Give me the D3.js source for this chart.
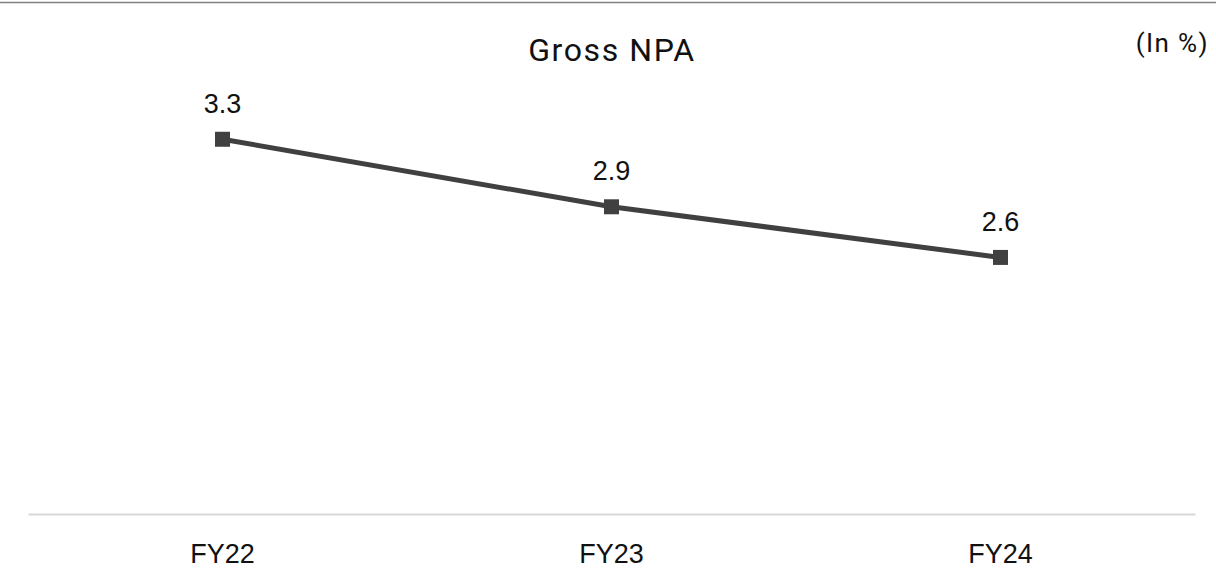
<!DOCTYPE html>
<html><head><meta charset="utf-8">
<script src="https://cdn.jsdelivr.net/npm/d3@7"></script>
<style>body{margin:0;background:#fff;} svg{display:block;}</style>
</head><body>
<svg id="c" width="1216" height="583"></svg>
<script>
const categories = ["FY22", "FY23", "FY24"];
const values = [3.3, 2.9, 2.6];
const valueLabels = ["3.3", "2.9", "2.6"];
const title = "Gross NPA";
const unitLabel = "(In %)";

const svg = d3.select("#c");
const W = 1216, H = 583;
const left = 28, right = 1195, baseY = 514;

const x = d3.scaleBand().domain(categories).range([left, right]).padding(0);
const y = d3.scaleLinear().domain([1.08, 3.5]).range([baseY, baseY - 2.42 * 168.8]);

// top rule
svg.append("line").attr("x1", 0).attr("x2", W).attr("y1", 2.5).attr("y2", 2.5)
  .attr("stroke", "#808080").attr("stroke-width", 1.5);

// title
svg.append("text").attr("x", 612).attr("y", 61).attr("text-anchor", "middle")
  .attr("font-family", "Roboto, 'Liberation Sans', sans-serif").attr("font-size", 32)
  .attr("letter-spacing", 1.6)
  .attr("fill", "#111").text(title);

svg.append("text").attr("x", 1209).attr("y", 52).attr("text-anchor", "end")
  .attr("font-family", "Roboto, 'Liberation Sans', sans-serif").attr("font-size", 26)
  .attr("letter-spacing", 1.4)
  .attr("fill", "#111").text(unitLabel);

// x axis
const xAxis = svg.append("g").attr("transform", `translate(0,${baseY})`)
  .call(d3.axisBottom(x).tickSize(0).tickPadding(0));
xAxis.select(".domain").attr("stroke", "#d9d9d9").attr("stroke-width", 2);
xAxis.selectAll("text").attr("font-family", "'Liberation Sans', Arial, sans-serif")
  .attr("font-size", 27).attr("fill", "#111").attr("dy", null).attr("y", 49);

const cx = c => x(c) + x.bandwidth() / 2;

// line
const line = d3.line().x((d, i) => cx(categories[i])).y(d => y(d));
svg.append("path").datum(values).attr("d", line)
  .attr("fill", "none").attr("stroke", "#404040").attr("stroke-width", 5);

// markers
const ms = 15;
svg.selectAll("rect.m").data(values).join("rect").attr("class", "m")
  .attr("x", (d, i) => cx(categories[i]) - ms / 2)
  .attr("y", d => y(d) - ms / 2)
  .attr("width", ms).attr("height", ms).attr("fill", "#404040");

// value labels
svg.selectAll("text.v").data(values).join("text").attr("class", "v")
  .attr("x", (d, i) => cx(categories[i]))
  .attr("y", d => y(d) - 26.5)
  .attr("text-anchor", "middle")
  .attr("font-family", "'Liberation Sans', Arial, sans-serif").attr("font-size", 27)
  .attr("fill", "#111").text((d, i) => valueLabels[i]);
</script>
</body></html>
